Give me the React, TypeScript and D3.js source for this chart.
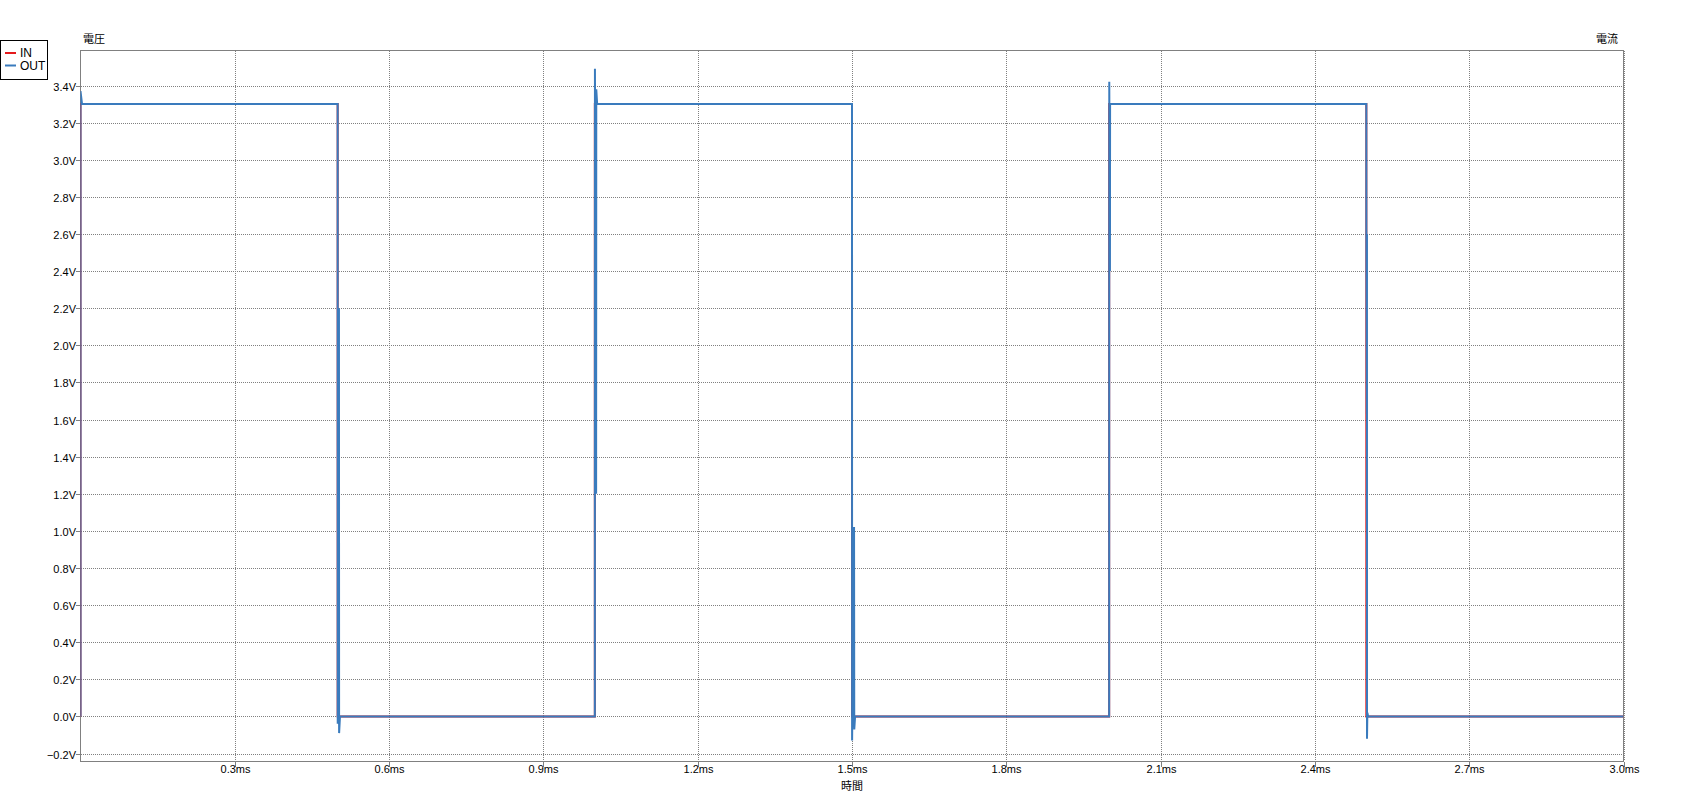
import React from "react";
import * as d3 from "d3";

// ---- data (time in ms, voltage in V) ----
const inTime = [0, 0, 0.5, 0.5, 1.0, 1.0, 1.5, 1.5, 2.0, 2.0, 2.5, 2.5, 3.0];
const inVolt = [0, 3.3, 3.3, 0, 0, 3.3, 3.3, 0, 0, 3.3, 3.3, 0, 0];

const outTime = [
  0, 0, 0.003,
  0.5, 0.5001, 0.5025, 0.5028, 0.5045,
  1.0, 1.0002, 1.0025, 1.0028, 1.0045,
  1.5, 1.5002, 1.504, 1.5044, 1.506,
  2.0, 2.0002, 2.0015, 2.0018,
  2.5, 2.5001, 2.501, 2.5012, 2.5013, 2.502, 2.5035,
  3.0,
];
const outVolt = [
  0, 3.37, 3.3,
  3.3, -0.04, 2.2, -0.09, 0.0,
  0.0, 3.49, 1.2, 3.38, 3.3,
  3.3, -0.13, 1.02, -0.07, 0.0,
  0.0, 3.42, 2.4, 3.3,
  3.3, 2.6, 1.63, 2.6, -0.12, 0.02, 0.0,
  0.0,
];

const yTicks = [-0.2, 0, 0.2, 0.4, 0.6, 0.8, 1.0, 1.2, 1.4, 1.6, 1.8, 2.0, 2.2, 2.4, 2.6, 2.8, 3.0, 3.2, 3.4];
const xTicks = [0.3, 0.6, 0.9, 1.2, 1.5, 1.8, 2.1, 2.4, 2.7, 3.0];

const seriesNames = ["IN", "OUT"];
const seriesColors = ["#e41a1c", "#3a7bbd"];

export default function App() {
  const W = 1704;
  const H = 811;
  const left = 80.5;
  const right = 1623.5;
  const top = 50.5;
  const bottom = 761.5;

  const x = d3.scaleLinear().domain([0, 3.0]).range([left, right]);
  const y = d3.scaleLinear().domain([-0.2, 3.4]).range([753.5, 85.5]);

  const line = d3
    .line<[number, number]>()
    .x((d) => x(d[0]))
    .y((d) => y(d[1]));

  const inPts: [number, number][] = inTime.map((t, i) => [t, inVolt[i]]);
  const outPts: [number, number][] = outTime.map((t, i) => [t, outVolt[i]]);

  const tickFont = "'Liberation Sans', Arial, sans-serif";
  const cjkFont = "'Noto Sans CJK JP', sans-serif";
  const grey = "#808080";

  return (
    <svg
      width={W}
      height={H}
      style={{ position: "absolute", left: 0, top: 0, background: "#fff" }}
    >
      <defs>
        <clipPath id="plotClip">
          <rect x={left} y={top} width={right - left} height={bottom - top} />
        </clipPath>
      </defs>

      {/* grid */}
      {yTicks.map((v) => (
        <line
          key={"gy" + v}
          x1={81}
          x2={1623}
          y1={Math.round(y(v)) + 0.5}
          y2={Math.round(y(v)) + 0.5}
          stroke={grey}
          strokeDasharray="1,1"
          shapeRendering="crispEdges"
        />
      ))}
      {xTicks.map((t) => (
        <line
          key={"gx" + t}
          x1={Math.round(x(t)) + 0.5}
          x2={Math.round(x(t)) + 0.5}
          y1={51}
          y2={761}
          stroke={grey}
          strokeDasharray="1,1"
          shapeRendering="crispEdges"
        />
      ))}

      {/* frame */}
      <rect
        x={left}
        y={top}
        width={right - left}
        height={bottom - top}
        fill="none"
        stroke={grey}
        strokeWidth={1}
        shapeRendering="crispEdges"
      />

      {/* y ticks */}
      {yTicks.map((v) => (
        <g key={"ty" + v}>
          <line
            x1={76}
            x2={left}
            y1={Math.round(y(v)) + 0.5}
            y2={Math.round(y(v)) + 0.5}
            stroke={grey}
            shapeRendering="crispEdges"
          />
          <text
            x={76}
            y={Math.round(y(v)) + 0.5}
            textAnchor="end"
            dominantBaseline="central"
            fontFamily={tickFont}
            fontSize={11}
            fill="#000"
          >
            {(v < 0 ? "−" : "") + Math.abs(v).toFixed(1) + "V"}
          </text>
        </g>
      ))}

      {/* x ticks */}
      {xTicks.map((t) => (
        <g key={"tx" + t}>
          <line
            x1={Math.round(x(t)) + 0.5}
            x2={Math.round(x(t)) + 0.5}
            y1={bottom}
            y2={bottom + 5}
            stroke={grey}
            shapeRendering="crispEdges"
          />
          <text
            x={Math.round(x(t)) + 0.5}
            y={773}
            textAnchor="middle"
            fontFamily={tickFont}
            fontSize={11}
            fill="#000"
          >
            {t.toFixed(1) + "ms"}
          </text>
        </g>
      ))}

      {/* series */}
      <g clipPath="url(#plotClip)">
        <path d={line(inPts) || ""} fill="none" stroke={seriesColors[0]} strokeWidth={2} />
        <path d={line(outPts) || ""} fill="none" stroke={seriesColors[1]} strokeWidth={2} />
      </g>

      {/* titles */}
      <text x={83} y={43} fontFamily={cjkFont} fontSize={11} fill="#000">
        電圧
      </text>
      <text x={1618} y={43} textAnchor="end" fontFamily={cjkFont} fontSize={11} fill="#000">
        電流
      </text>
      <text x={(left + right) / 2} y={790} textAnchor="middle" fontFamily={cjkFont} fontSize={11} fill="#000">
        時間
      </text>

      {/* legend */}
      <rect x={0.5} y={40.5} width={47} height={39} fill="#fff" stroke="#000" strokeWidth={1} />
      {seriesNames.map((n, i) => (
        <g key={n}>
          <line x1={5} x2={16} y1={53 + i * 12.5} y2={53 + i * 12.5} stroke={seriesColors[i]} strokeWidth={2} />
          <text
            x={20}
            y={53 + i * 12.5}
            dominantBaseline="central"
            fontFamily={tickFont}
            fontSize={12}
            fill="#000"
          >
            {n}
          </text>
        </g>
      ))}
    </svg>
  );
}
